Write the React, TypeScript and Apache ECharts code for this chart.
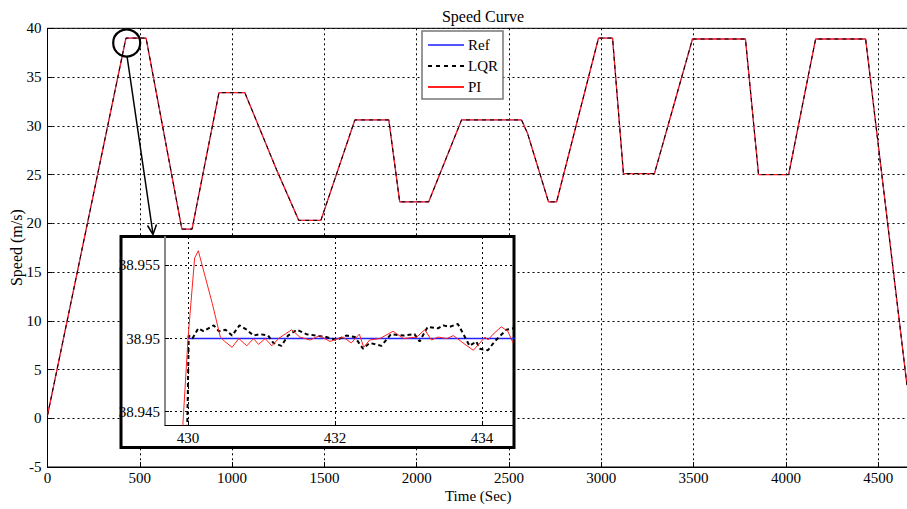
import React, { useEffect, useRef } from "react";
import * as echarts from "echarts";

// ---- Main curve (Time in s, speed in m/s) ----
const mainTimes = [0, 425, 534, 728, 783, 929, 1069, 1243, 1361, 1481, 1665, 1849, 1908, 2065, 2243, 2568, 2601, 2714, 2758, 2985, 3061, 3120, 3288, 3494, 3781, 3852, 4015, 4161, 4432, 4656];
const refSpeed = [0.3, 39.0, 39.0, 19.4, 19.4, 33.4, 33.4, 25.4, 20.3, 20.3, 30.6, 30.6, 22.2, 22.2, 30.6, 30.6, 29.2, 22.2, 22.2, 39.0, 39.0, 25.1, 25.1, 38.9, 38.9, 25.0, 25.0, 38.9, 38.9, 3.4];
const lqrSpeed = refSpeed.slice();
const piSpeed = refSpeed.slice();

// ---- Inset (zoom around t = 430 s) ----
const insetRefTimes = [430.0, 434.6];
const insetRefSpeed = [38.95, 38.95];

const insetPiTimes = [429.85, 429.93, 430.0, 430.09, 430.14, 430.33, 430.44, 430.5, 430.6, 430.69, 430.8, 430.89, 430.96, 431.05, 431.14, 431.23, 431.32, 431.41, 431.52, 431.66, 431.79, 431.93, 432.11, 432.22, 432.33, 432.39, 432.47, 432.61, 432.79, 432.93, 433.11, 433.22, 433.31, 433.4, 433.52, 433.61, 433.74, 433.88, 433.97, 434.04, 434.08, 434.15, 434.26, 434.35, 434.42];
const insetPiSpeed = [38.937, 38.9441, 38.95, 38.9555, 38.956, 38.9524, 38.9501, 38.9498, 38.9494, 38.95, 38.9495, 38.95, 38.9496, 38.95, 38.9495, 38.95, 38.9503, 38.9506, 38.9501, 38.9499, 38.9502, 38.9498, 38.9501, 38.9497, 38.9503, 38.9494, 38.9499, 38.95, 38.9505, 38.95, 38.9501, 38.9506, 38.9499, 38.9501, 38.95, 38.9502, 38.9497, 38.9492, 38.9497, 38.9501, 38.9499, 38.9503, 38.9508, 38.9505, 38.9497];

const insetLqrTimes = [429.95, 429.99, 430.01, 430.06, 430.14, 430.21, 430.35, 430.42, 430.51, 430.6, 430.7, 430.8, 430.89, 430.98, 431.09, 431.16, 431.27, 431.36, 431.48, 431.61, 431.75, 431.88, 432.02, 432.15, 432.27, 432.38, 432.47, 432.63, 432.76, 432.93, 433.08, 433.15, 433.26, 433.4, 433.47, 433.56, 433.67, 433.83, 433.92, 433.97, 434.08, 434.17, 434.33, 434.42];
const insetLqrSpeed = [38.94, 38.9441, 38.9502, 38.95, 38.9507, 38.9505, 38.9509, 38.9505, 38.9506, 38.9502, 38.9509, 38.9506, 38.9502, 38.9503, 38.9502, 38.9497, 38.9495, 38.9502, 38.9506, 38.9503, 38.9502, 38.9501, 38.9499, 38.9502, 38.9501, 38.9493, 38.9497, 38.9495, 38.9503, 38.9502, 38.9503, 38.9498, 38.9508, 38.9507, 38.9509, 38.9508, 38.951, 38.9495, 38.9498, 38.9493, 38.9492, 38.9498, 38.9506, 38.9507];

const insetXTicks = [430, 432, 434];
const insetYTicks = [38.945, 38.95, 38.955];

const zip = (xs: number[], ys: number[]) => xs.map((x, i) => [x, ys[i]]);

const FONT = "'Liberation Serif', 'Times New Roman', serif";

export default function App() {
  const ref = useRef<HTMLDivElement>(null);
  useEffect(() => {
    if (!ref.current) return;
    const chart = echarts.init(ref.current, null, { renderer: "svg" });
    const gridLine = { show: true, lineStyle: { color: "#000", width: 1, type: [2, 3] as any } };
    const option: any = {
      animation: false,
      backgroundColor: "#fff",
      textStyle: { fontFamily: FONT },
      title: {
        text: "Speed Curve",
        left: 478,
        top: 3,
        textAlign: "center",
        textStyle: { fontFamily: FONT, fontSize: 16, fontWeight: "normal", color: "#000" },
      },
      legend: {
        data: ["Ref", "LQR", "PI"],
        orient: "vertical",
        left: 422,
        top: 31,
        itemWidth: 36,
        itemHeight: 14,
        itemGap: 3,
        padding: [5, 5, 3, 5],
        borderColor: "#777",
        borderWidth: 1.5,
        borderRadius: 0,
        backgroundColor: "#fff",
        itemStyle: { opacity: 0 },
        textStyle: { fontFamily: FONT, fontSize: 15, color: "#000", lineHeight: 18, padding: [0, 0, 0, -1] },
        z: 20,
      },
      grid: [
        { left: 47.5, top: 28.3, right: -2, bottom: 42, show: true, borderColor: "#000", borderWidth: 1, backgroundColor: "transparent", outerBoundsMode: "none", containLabel: false },
        { left: 165, top: 237, right: 394, bottom: 84, z: 10, outerBoundsMode: "none", containLabel: false },
      ],
      xAxis: [
        {
          type: "value",
          gridIndex: 0,
          min: 0,
          max: 4667,
          interval: 500,
          name: "Time (Sec)",
          nameLocation: "middle",
          nameGap: 21,
          nameMoveOverlap: false,
          nameTextStyle: { fontFamily: FONT, fontSize: 15, color: "#000", lineHeight: 16 },
          axisLine: { show: true, onZero: false, lineStyle: { color: "#000", width: 1 } },
          axisTick: { show: true, inside: true, length: 5, lineStyle: { color: "#000" } },
          axisLabel: { fontFamily: FONT, fontSize: 15, color: "#000", margin: 4, lineHeight: 14, showMaxLabel: false, formatter: (v: number) => String(v) },
          splitLine: gridLine,
        },
        {
          type: "value",
          gridIndex: 1,
          min: 429.687,
          max: 434.42,
          z: 10,
          axisLine: { show: true, onZero: false, lineStyle: { color: "#000", width: 1 } },
          axisTick: { show: true, inside: true, length: 4, customValues: insetXTicks, lineStyle: { color: "#000" } },
          axisLabel: { fontFamily: FONT, fontSize: 15, color: "#000", margin: 5, customValues: insetXTicks, formatter: (v: number) => String(v) },
          splitLine: gridLine,
        },
      ],
      yAxis: [
        {
          type: "value",
          gridIndex: 0,
          min: -5,
          max: 40,
          interval: 5,
          name: "Speed (m/s)",
          nameLocation: "middle",
          nameGap: 23,
          nameMoveOverlap: false,
          nameTextStyle: { fontFamily: FONT, fontSize: 16, color: "#000" },
          axisLine: { show: true, onZero: false, lineStyle: { color: "#000", width: 1 } },
          axisTick: { show: true, inside: true, length: 5, lineStyle: { color: "#000" } },
          axisLabel: { fontFamily: FONT, fontSize: 15, color: "#000", margin: 6 },
          splitLine: gridLine,
        },
        {
          type: "value",
          gridIndex: 1,
          min: 38.94409,
          max: 38.95694,
          z: 10,
          axisLine: { show: true, onZero: false, lineStyle: { color: "#888", width: 2 } },
          axisTick: { show: true, inside: true, length: 4, customValues: insetYTicks, lineStyle: { color: "#000" } },
          axisLabel: { fontFamily: FONT, fontSize: 15, color: "#000", margin: 5, customValues: insetYTicks, formatter: (v: number) => String(v) },
          splitLine: gridLine,
        },
      ],
      graphic: [
        {
          type: "rect",
          z: 5,
          shape: { x: 121, y: 236.5, width: 393, height: 211 },
          style: { fill: "#fff", stroke: "#000", lineWidth: 3 },
        },
        {
          type: "circle",
          z: 6,
          shape: { cx: 126.7, cy: 43, r: 13.5 },
          style: { fill: "none", stroke: "#000", lineWidth: 2.2 },
        },
        {
          type: "line",
          z: 6,
          shape: { x1: 127, y1: 56, x2: 153, y2: 234 },
          style: { stroke: "#000", lineWidth: 1.5 },
        },
        {
          type: "polyline",
          z: 6,
          shape: { points: [[147.5, 225.5], [153, 234.5], [156.5, 224.5]] },
          style: { stroke: "#000", lineWidth: 1.5, fill: "none" },
        },
      ],
      series: [
        {
          name: "Ref", type: "line", xAxisIndex: 0, yAxisIndex: 0, symbol: "none", z: 2,
          lineStyle: { color: "#5555ff", width: 1 }, itemStyle: { color: "#5555ff" },
          data: zip(mainTimes, refSpeed),
        },
        {
          name: "PI", type: "line", xAxisIndex: 0, yAxisIndex: 0, symbol: "none", z: 3,
          lineStyle: { color: "#ff2020", width: 1.3 }, itemStyle: { color: "#ff2020" },
          data: zip(mainTimes, piSpeed),
        },
        {
          name: "LQR", type: "line", xAxisIndex: 0, yAxisIndex: 0, symbol: "none", z: 4,
          lineStyle: { color: "#000", width: 1, type: [4, 4] }, itemStyle: { color: "#000" },
          data: zip(mainTimes, lqrSpeed),
        },
        {
          name: "Ref", type: "line", xAxisIndex: 1, yAxisIndex: 1, symbol: "none", z: 11,
          lineStyle: { color: "#2222ff", width: 1.5 }, itemStyle: { color: "#2222ff" },
          data: zip(insetRefTimes, insetRefSpeed),
        },
        {
          name: "LQR", type: "line", xAxisIndex: 1, yAxisIndex: 1, symbol: "none", z: 12,
          lineStyle: { color: "#000", width: 2, type: [4, 3] }, itemStyle: { color: "#000" },
          data: zip(insetLqrTimes, insetLqrSpeed),
        },
        {
          name: "PI", type: "line", xAxisIndex: 1, yAxisIndex: 1, symbol: "none", z: 13,
          lineStyle: { color: "#ff2020", width: 1 }, itemStyle: { color: "#ff2020" },
          data: zip(insetPiTimes, insetPiSpeed),
        },
      ],
    };
    chart.setOption(option);
    return () => chart.dispose();
  }, []);
  return (
    <div
      ref={ref}
      style={{ position: "fixed", left: 0, top: 0, width: 907, height: 509, background: "#fff" }}
    />
  );
}
